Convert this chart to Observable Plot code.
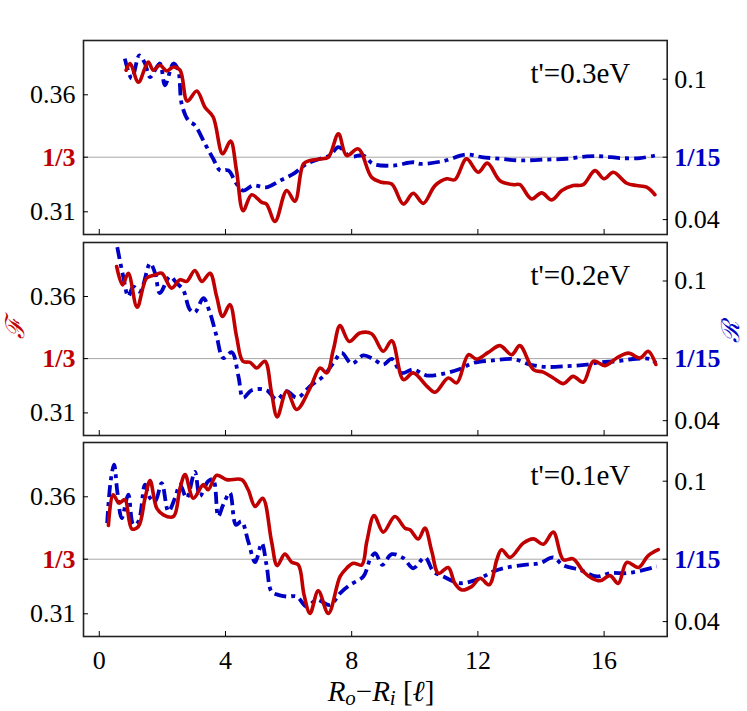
<!DOCTYPE html>
<html><head><meta charset="utf-8">
<script src="https://cdn.jsdelivr.net/npm/d3@7"></script>
<script src="https://cdn.jsdelivr.net/npm/@observablehq/plot@0.6"></script>
<style>
body{margin:0;background:#fff;}
#wrap{position:relative;width:747px;height:711px;font-family:"Liberation Serif","Times New Roman",Times,serif;overflow:hidden}
#wrap svg{position:absolute;left:0;overflow:visible}
.lab{position:absolute;white-space:nowrap;line-height:1}
</style></head><body><div id="wrap"></div>
<script>
// ---- tick labels / categories ----
const xTicks = [0, 4, 8, 12, 16];
const fTicks = [0.31, 0.36];
const rTicks = [0.04, 0.1];
const panelLabels = ["t'=0.3eV", "t'=0.2eV", "t'=0.1eV"];
const fRef = 1/3, rRef = 1/15;

// ---- panel 1 (t'=0.3eV) ----
const x1F = [0.85,0.98,1.24,1.55,1.71,1.92,2.14,2.35,2.56,2.79,3.09,3.35,3.61,3.91,4.16,4.35,4.56,4.83,5.15,5.30,5.57,5.94,6.20,6.47,6.68,7.0,7.26,7.58,7.84,8.21,8.63,8.95,9.27,9.64,9.95,10.27,10.64,11.01,11.27,11.64,12.01,12.30,12.70,13.12,13.33,13.70,14.02,14.34,14.66,15.02,15.34,15.71,16.0,16.29,16.72,17.03,17.35,17.61];
const F1 = [0.3705,0.3733,0.3654,0.3740,0.3705,0.3726,0.3702,0.3719,0.3705,0.3573,0.3616,0.3547,0.3505,0.3348,0.3402,0.3276,0.3105,0.3173,0.3140,0.3133,0.3059,0.3191,0.3145,0.3305,0.3319,0.3326,0.3333,0.3433,0.3340,0.3369,0.3248,0.3226,0.3219,0.3133,0.3179,0.3136,0.3212,0.3241,0.3237,0.3326,0.3269,0.3308,0.3233,0.3216,0.3216,0.3155,0.3181,0.3151,0.3191,0.3212,0.3216,0.3276,0.3241,0.3269,0.3222,0.3212,0.3205,0.3173];
const x1R = [0.81,1.03,1.27,1.45,1.61,1.92,2.08,2.35,2.50,2.61,2.82,3.03,3.35,3.61,3.83,4.09,4.35,4.56,4.88,5.30,5.73,6.15,6.57,7.0,7.31,7.58,7.95,8.37,8.68,9.32,9.95,10.17,10.90,11.64,12.12,12.70,13.33,14.07,14.81,15.45,15.97,16.50,17.14,17.61];
const R1 = [0.1088,0.1003,0.1102,0.1067,0.1009,0.1067,0.0974,0.1067,0.1038,0.0895,0.0824,0.0803,0.0724,0.0660,0.0610,0.0610,0.0553,0.0524,0.0546,0.0538,0.0567,0.0595,0.0638,0.0660,0.0674,0.0710,0.0670,0.0674,0.0638,0.0631,0.0645,0.0638,0.0650,0.0678,0.0667,0.0660,0.0653,0.0656,0.0660,0.0670,0.0670,0.0663,0.0663,0.0674];

// ---- panel 2 (t'=0.2eV) ----
const x2F = [0.55,0.74,0.92,1.20,1.50,1.77,1.98,2.29,2.56,2.77,3.03,3.25,3.51,3.72,3.91,4.14,4.35,4.55,4.78,4.99,5.25,5.46,5.64,5.94,6.26,6.68,7.0,7.21,7.42,7.63,7.92,8.26,8.63,9.00,9.27,9.64,9.95,10.38,10.64,11.06,11.33,11.70,11.96,12.33,12.70,13.07,13.33,13.76,14.07,14.39,14.71,15.02,15.34,15.66,16.03,16.40,16.77,17.14,17.40,17.64];
const F2 = [0.3729,0.3650,0.3700,0.3554,0.3679,0.3693,0.3700,0.3636,0.3672,0.3665,0.3712,0.3665,0.3700,0.3600,0.3514,0.3565,0.3429,0.3322,0.3317,0.3293,0.3322,0.3186,0.3083,0.3193,0.3115,0.3207,0.3293,0.3272,0.3372,0.3475,0.3407,0.3443,0.3440,0.3365,0.3410,0.3243,0.3272,0.3215,0.3189,0.3250,0.3229,0.3350,0.3331,0.3360,0.3389,0.3350,0.3389,0.3286,0.3275,0.3250,0.3226,0.3257,0.3232,0.3322,0.3303,0.3336,0.3357,0.3336,0.3365,0.3308];
const x2R = [0.57,0.76,0.92,1.08,1.29,1.61,1.77,1.92,2.24,2.45,2.66,2.87,3.03,3.30,3.51,3.72,3.93,4.20,4.41,4.56,4.83,5.30,5.62,5.94,6.26,6.68,7.10,7.42,7.68,8.0,8.37,8.68,9.00,9.27,9.58,9.95,10.38,11.01,11.43,11.85,12.49,13.12,13.65,14.18,14.81,15.45,15.87,16.40,16.93,17.45,17.64];
const R2 = [0.1145,0.1019,0.0934,0.0976,0.0955,0.1076,0.1033,0.0948,0.1019,0.0991,0.0962,0.0877,0.0865,0.0926,0.0862,0.0762,0.0669,0.0694,0.0591,0.0498,0.0531,0.0531,0.0491,0.0527,0.0498,0.0548,0.0591,0.0648,0.0691,0.0645,0.0680,0.0665,0.0641,0.0665,0.0605,0.0620,0.0594,0.0605,0.0622,0.0648,0.0659,0.0665,0.0641,0.0631,0.0634,0.0641,0.0651,0.0655,0.0665,0.0665,0.0648];

// ---- panel 3 (t'=0.1eV) ----
const x3F = [0.29,0.44,0.63,0.81,1.03,1.24,1.45,1.61,1.82,2.03,2.35,2.56,2.72,2.98,3.30,3.45,3.72,4.04,4.51,4.72,4.94,5.18,5.46,5.64,5.88,6.10,6.31,6.49,6.68,6.94,7.26,7.63,7.84,8.05,8.32,8.48,8.71,9.00,9.37,9.69,9.85,10.11,10.32,10.54,10.75,11.06,11.27,11.49,11.80,12.07,12.36,12.60,12.75,13.02,13.44,13.76,14.07,14.39,14.71,15.02,15.34,15.61,15.87,16.19,16.45,16.72,17.09,17.40,17.72];
const F3 = [0.3478,0.3609,0.3573,0.3588,0.3463,0.3473,0.3594,0.3669,0.3552,0.3523,0.3516,0.3637,0.3695,0.3594,0.3652,0.3630,0.3692,0.3673,0.3673,0.3630,0.3559,0.3594,0.3409,0.3306,0.3355,0.3320,0.3309,0.3181,0.3102,0.3198,0.3102,0.3259,0.3295,0.3316,0.3309,0.3409,0.3520,0.3449,0.3516,0.3466,0.3459,0.3420,0.3466,0.3366,0.3273,0.3298,0.3230,0.3202,0.3216,0.3252,0.3224,0.3331,0.3374,0.3341,0.3402,0.3420,0.3397,0.3449,0.3331,0.3335,0.3281,0.3252,0.3241,0.3263,0.3230,0.3320,0.3298,0.3349,0.3374];
const x3R = [0.25,0.36,0.47,0.57,0.71,0.92,1.08,1.24,1.45,1.61,1.77,1.98,2.19,2.40,2.56,2.77,3.03,3.19,3.45,3.61,3.77,3.93,4.14,4.33,4.51,4.72,4.94,5.15,5.30,5.46,5.67,5.94,6.26,6.57,6.89,7.31,7.63,7.95,8.37,8.60,8.75,8.97,9.27,9.64,9.95,10.32,10.59,10.90,11.43,12.07,12.49,12.91,13.54,13.97,14.39,14.71,15.24,15.77,16.19,16.72,17.14,17.67];
const R3 = [0.0821,0.1000,0.1071,0.0957,0.0842,0.0943,0.0814,0.0828,0.0985,0.0928,0.0914,0.0992,0.0871,0.0928,0.0985,0.0928,0.1040,0.0936,0.1000,0.1007,0.0850,0.0900,0.0950,0.0814,0.0828,0.0743,0.0654,0.0735,0.0643,0.0528,0.0514,0.0507,0.0507,0.0464,0.0493,0.0471,0.0521,0.0557,0.0593,0.0671,0.0692,0.0643,0.0688,0.0671,0.0628,0.0674,0.0614,0.0593,0.0564,0.0586,0.0614,0.0631,0.0643,0.0650,0.0674,0.0640,0.0621,0.0593,0.0607,0.0607,0.0617,0.0635];

const panels = [
  {xF: x1F, F: F1, xR: x1R, R: R1},
  {xF: x2F, F: F2, xR: x2R, R: R2},
  {xF: x3F, F: F3, xR: x3R, R: R3}
];

const RED = "#c00000", BLUE = "#0000c4";
const off = fRef - rRef; // right axis shares the pixel scale, 1/15 aligned with 1/3
const FONT = '"Liberation Serif", "Times New Roman", Times, serif';
const layout = [
  {top: 34, h: 206, mt: 6, mb: 6},
  {top: 235.5, h: 205, mt: 6, mb: 6},
  {top: 435.5, h: 275.5, mt: 6, mb: 75.5}
];

const wrap = document.getElementById("wrap");
panels.forEach((p, i) => {
  const L = layout[i];
  const last = i === panels.length - 1;
  const chart = Plot.plot({
    width: 747, height: L.h,
    marginLeft: 83, marginRight: 80.3, marginTop: L.mt, marginBottom: L.mb,
    x: {domain: [-0.5, 18]},
    y: {domain: [0.3003, 0.3832]},
    style: {fontFamily: FONT, fontSize: "26px", background: "transparent", color: "#000"},
    marks: [
      Plot.ruleY([fRef], {stroke: "#a8a8a8", strokeWidth: 1}),
      Plot.line(p.R, {x: p.xR, y: p.R.map(r => r + off), stroke: BLUE, strokeWidth: 3.8,
        strokeDasharray: "12,5,4,5", strokeLinecap: "butt", curve: "catmull-rom"}),
      Plot.line(p.F, {x: p.xF, y: p.F, stroke: RED, strokeWidth: 3.6, curve: "catmull-rom"}),
      Plot.frame({stroke: "#222", strokeWidth: 1.6}),
      Plot.axisY(fTicks, {anchor: "left", tickSize: -5, tickPadding: 13, tickFormat: d => d.toFixed(2), fontSize: 26, fontFamily: FONT, label: null}),
      Plot.axisY([fRef], {anchor: "left", tickSize: -5, tickPadding: 13, tickFormat: () => "1/3", fill: RED, fontWeight: "bold", fontSize: 26, fontFamily: FONT, label: null}),
      Plot.axisY(rTicks.map(r => r + off), {anchor: "right", tickSize: -5, tickPadding: 12, tickFormat: d => String(+(d - off).toFixed(2)), fontSize: 26, fontFamily: FONT, label: null}),
      Plot.axisY([rRef + off], {anchor: "right", tickSize: -5, tickPadding: 12, tickFormat: () => "1/15", fill: BLUE, fontWeight: "bold", fontSize: 26, fontFamily: FONT, label: null}),
      Plot.axisX(xTicks, {anchor: "bottom", tickSize: -5, tickPadding: 19, tickFormat: last ? (d => String(d)) : (() => ""), fontSize: 26, fontFamily: FONT, label: null}),
      Plot.text([panelLabels[i]], {frameAnchor: "top-right", text: d => d, dx: -37, dy: 42, lineAnchor: "bottom", textAnchor: "end", fontSize: 29, fontFamily: FONT})
    ]
  });
  chart.style.top = L.top + "px";
  wrap.appendChild(chart);
});

function addLabel(html, css) {
  const d = document.createElement("div");
  d.className = "lab";
  d.innerHTML = html;
  Object.assign(d.style, css);
  wrap.appendChild(d);
}
addLabel("ℱ", {left: "15px", top: "328px", color: RED, fontSize: "26px", fontStyle: "italic",
  fontFamily: "'DejaVu Serif', serif", transform: "translate(-50%,-50%) rotate(-90deg)"});
addLabel("ℛ", {left: "730px", top: "332px", color: BLUE, fontSize: "25px", fontStyle: "italic",
  fontFamily: "'DejaVu Serif', serif", transform: "translate(-50%,-50%) rotate(-90deg)"});
addLabel("<i>R</i><sub style='font-size:0.72em;vertical-align:-0.22em'><i>o</i></sub>−<i>R</i><sub style='font-size:0.72em;vertical-align:-0.22em'><i>i</i></sub> [<i>ℓ</i>]",
  {left: "381px", top: "693px", fontSize: "29px", fontFamily: FONT, transform: "translate(-50%,-50%)"});
</script></body></html>
